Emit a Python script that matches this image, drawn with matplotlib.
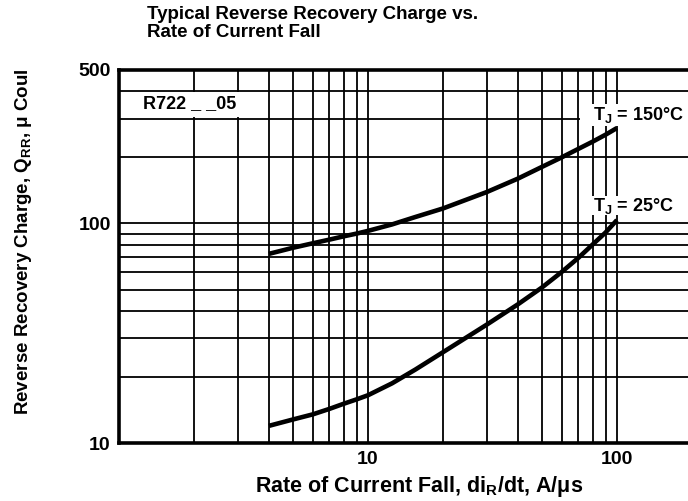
import matplotlib
matplotlib.use("Agg")
from matplotlib import pyplot as plt
from matplotlib.patches import Rectangle

plt.rcParams['font.family'] = ['Liberation Sans', 'DejaVu Sans']
plt.rcParams['font.weight'] = 'bold'
plt.rcParams['axes.labelweight'] = 'bold'
plt.rcParams['mathtext.fontset'] = 'custom'
plt.rcParams['mathtext.rm'] = 'Liberation Sans:bold'

# ----- data
rate = [4, 5, 6, 7, 8, 9, 10, 12.5, 15.5, 20, 30, 40, 50, 60, 70, 80, 90, 100]
q_150 = [72.7, 77.5, 81.2, 84.4, 87.4, 89.9, 92.5, 99, 107, 117, 139, 160, 181,
         200, 218.6, 236, 253.6, 272]
q_25 = [11.97, 12.8, 13.5, 14.3, 15.1, 15.8, 16.5, 18.7, 21.6, 25.9, 34.6, 42.8, 51.1,
        60.1, 69.7, 80.3, 90.9, 103.6]

x_ticks = [10, 100]
y_ticks = [10, 100, 500]

fig = plt.figure(figsize=(6.88, 5.01), dpi=100)
ax = fig.add_axes([119 / 688, 1 - 443 / 501, 569 / 688, 373 / 501])
ax.set_xscale('log')
ax.set_yscale('log')
ax.set_xlim(1, 193)
ax.set_ylim(10, 500)

ax.set_axisbelow(True)
ax.grid(True, which='both', color='black', linewidth=1.3)

ax.plot(rate, q_150, color='black', linewidth=3.3, solid_capstyle='butt', zorder=3)
ax.plot(rate, q_25, color='black', linewidth=3.3, solid_capstyle='butt', zorder=3)

# white patches behind the labels, like on the printed sheet
for (x0, x1, y0, y1) in [(1, 3.85, 305, 395), (71, 193, 279, 351), (71, 193, 109, 134)]:
    ax.add_patch(Rectangle((x0, y0), x1 - x0, y1 - y0, facecolor='white',
                           edgecolor='none', zorder=1))

ax.text(1.25, 350, 'R722 _ _05', fontsize=13, va='center', ha='left', zorder=4)
ax.text(80, 312, r'T$_{\rm J}$ = 150°C', fontsize=13, va='center', ha='left', zorder=4)
ax.text(80, 120.5, r'T$_{\rm J}$ = 25°C', fontsize=13, va='center', ha='left', zorder=4)

ax.set_xticks(x_ticks)
ax.set_xticklabels([str(v) for v in x_ticks])
ax.set_yticks(y_ticks)
ax.set_yticklabels([str(v) for v in y_ticks])
ax.tick_params(which='both', length=0, labelsize=14, pad=6)
ax.xaxis.set_minor_formatter(matplotlib.ticker.NullFormatter())
ax.yaxis.set_minor_formatter(matplotlib.ticker.NullFormatter())

for side in ['left', 'bottom', 'top']:
    ax.spines[side].set_linewidth(2.6)
ax.spines['right'].set_visible(False)

ax.set_xlabel(r'Rate of Current Fall, di$_{\rm R}$/dt, A/μs', fontsize=15.5, fontweight='bold')
ax.set_ylabel(r'Reverse Recovery Charge, Q$_{\rm RR}$, μ Coul', fontsize=13.5, fontweight='bold')
ax.xaxis.set_label_coords(0.527, -0.083)
ax.yaxis.set_label_coords(-0.15, 0.54)

fig.text(147 / 688, 1 - 6 / 501, 'Typical Reverse Recovery Charge vs.\nRate of Current Fall',
         fontsize=13.5, ha='left', va='top', linespacing=1.1)

fig.savefig('out.png', dpi=100)
